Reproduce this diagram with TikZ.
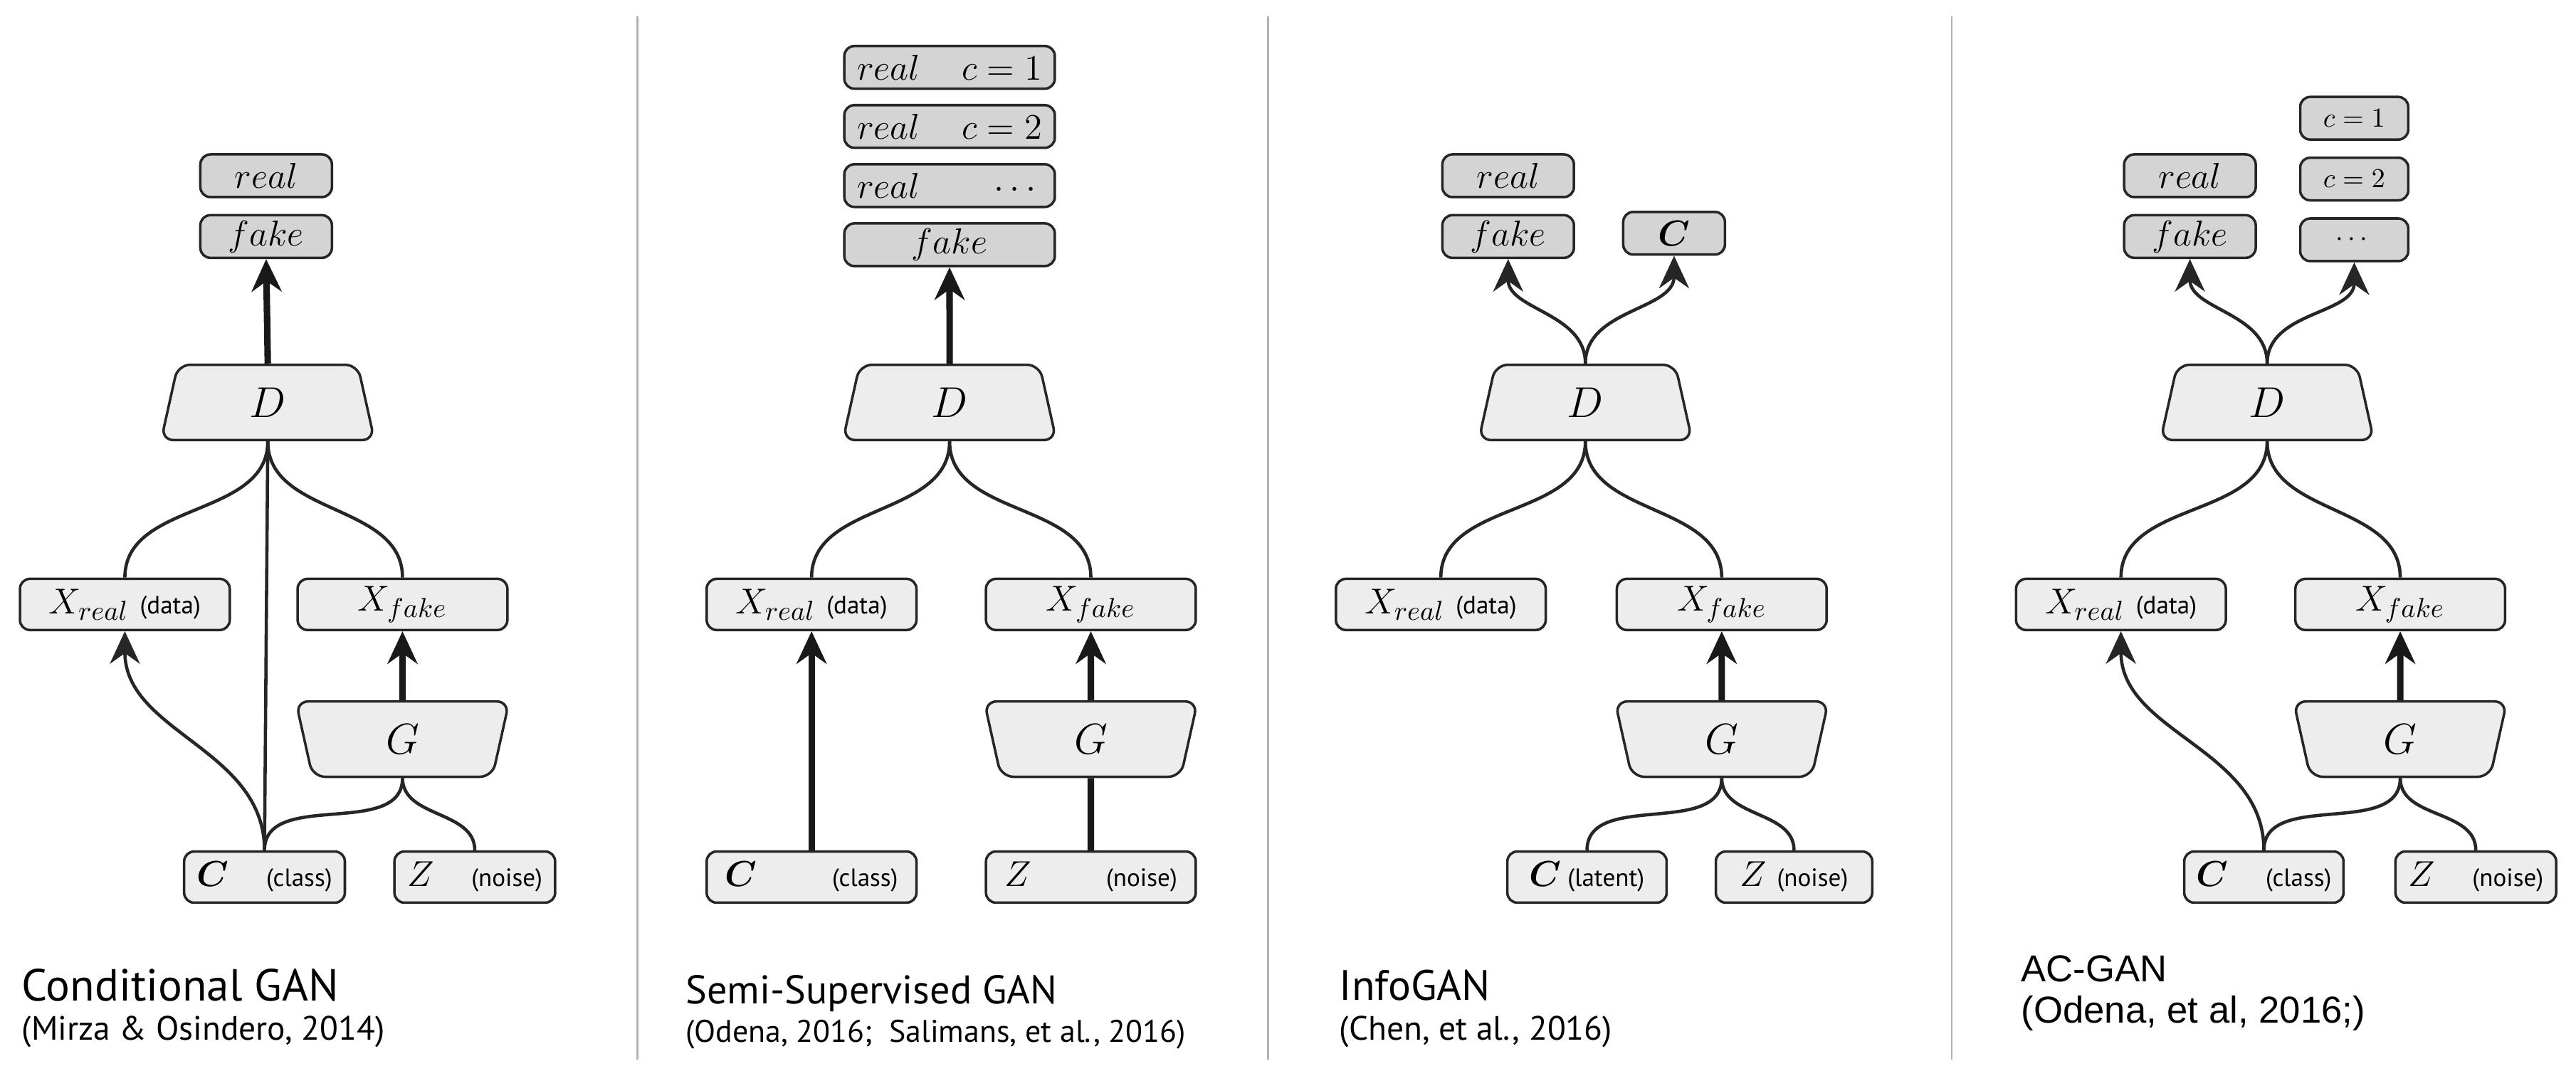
\documentclass[tikz,border=0pt]{standalone}
\usepackage{amsmath}
\usepackage{fontspec}
\newfontfamily\capfont{PT Sans}
\newfontfamily\arialfont{Liberation Sans}
\usetikzlibrary{arrows.meta,shapes.geometric}

\tikzset{
  outbox/.style={draw=black!85,line width=1pt,rounded corners=4pt,fill=black!17,
    minimum width=1.85cm,minimum height=0.6cm,inner sep=1pt,font=\fontsize{14}{16}\selectfont},
  inbox/.style={draw=black!85,line width=1pt,rounded corners=4pt,fill=black!7,
    minimum width=2.95cm,minimum height=0.72cm,inner sep=1pt,font=\fontsize{15}{17}\selectfont},
  disc/.style={trapezium,trapezium stretches body,trapezium angle=70,draw=black!85,line width=1pt,
    rounded corners=5pt,fill=black!7,minimum width=3.0cm,minimum height=1.06cm,font=\fontsize{17}{19}\selectfont},
  gen/.style={disc,shape border rotate=180},
  thin/.style={draw=black!85,line width=1.3pt},
  thick/.style={draw=black!90,line width=2.6pt},
  sep/.style={draw=black!30,line width=0.8pt},
}
\newcommand{\nt}[1]{{\capfont\fontsize{10}{12}\selectfont #1}}

\begin{document}
\begin{tikzpicture}[x=0.0231cm,y=-0.0231cm,>={Stealth[length=13pt,width=12pt]}]
\useasboundingbox (0,0) rectangle (1568,652);

\draw[sep] (388,10) -- (388,645);
\draw[sep] (772,10) -- (772,645);
\draw[sep] (1188,10) -- (1188,645);

% Conditional GAN
\node[outbox] (ar) at (162,107) {$real$};
\node[outbox] (af) at (162,144) {$fake$};
\node[disc] (ad) at (163,245) {$D$};
\node[inbox] (axr) at (76,368) {$X_{real}$ \nt{(data)}};
\node[inbox] (axf) at (245,368) {$X_{fake}$};
\node[gen] (ag) at (245,450) {$G$};
\node[inbox,minimum width=2.26cm] (ac) at (161,534) {$\boldsymbol{C}$\quad\nt{(class)}};
\node[inbox,minimum width=2.26cm] (az) at (289,534) {$Z$\quad\nt{(noise)}};

\draw[thick,->] (ad.north) -- (af.south);
\draw[thin] (ad.south) to[out=-90,in=90] (axr.north);
\draw[thin] (ad.south) to[out=-90,in=90] (axf.north);
\draw[thin] (ac.north) -- (ad.south);
\draw[thin,->] (ac.north) to[out=90,in=-90] (axr.south);
\draw[thin] (ac.north) to[out=90,in=-90] (ag.south);
\draw[thin] (az.north) to[out=90,in=-90] (ag.south);
\draw[thick,->] (ag.north) -- (axf.south);

\node[anchor=west,font=\capfont\fontsize{18}{21}\selectfont] (at) at (8,600) {Conditional GAN};
\node[anchor=west,font=\capfont\fontsize{13.5}{16}\selectfont] (as) at (8,628) {(Mirza \& Osindero, 2014)};

% Semi-Supervised GAN
\node[outbox,minimum width=2.96cm,text width=2.6cm] (b1) at (578,41) {$real$\hfill$c=1$\hspace*{6pt}};
\node[outbox,minimum width=2.96cm,text width=2.6cm] (b2) at (578,77) {$real$\hfill$c=2$\hspace*{6pt}};
\node[outbox,minimum width=2.96cm,text width=2.6cm] (b3) at (578,113) {$real$\hfill$\cdots$\hspace*{12pt}};
\node[outbox,minimum width=2.96cm] (bf) at (578,149) {$fake$};
\node[disc] (bd) at (578,245) {$D$};
\node[inbox] (bxr) at (494,368) {$X_{real}$ \nt{(data)}};
\node[inbox] (bxf) at (664,368) {$X_{fake}$};
\node[gen] (bg) at (664,450) {$G$};
\node[inbox] (bc) at (494,534) {$\boldsymbol{C}$\qquad\nt{(class)}};
\node[inbox] (bz) at (664,534) {$Z$\qquad\nt{(noise)}};

\draw[thick,->] (bd.north) -- (bf.south);
\draw[thin] (bd.south) to[out=-90,in=90] (bxr.north);
\draw[thin] (bd.south) to[out=-90,in=90] (bxf.north);
\draw[thick,->] (bc.north) -- (bxr.south);
\draw[thick] (bz.north) -- (bg.south);
\draw[thick,->] (bg.north) -- (bxf.south);

\node[anchor=west,font=\capfont\fontsize{16}{19}\selectfont] (bt) at (412,605) {Semi-Supervised GAN};
\node[anchor=west,font=\capfont\fontsize{12.5}{15}\selectfont] (bs) at (412,630) {(Odena, 2016;\ \ Salimans, et al., 2016)};

% InfoGAN
\node[outbox] (cr) at (918,107) {$real$};
\node[outbox] (cf) at (918,144) {$fake$};
\node[outbox,minimum width=1.43cm] (cc) at (1019,142) {$\boldsymbol{C}$};
\node[disc] (cd) at (965,245) {$D$};
\node[inbox] (cxr) at (877,368) {$X_{real}$ \nt{(data)}};
\node[inbox] (cxf) at (1048,368) {$X_{fake}$};
\node[gen] (cg) at (1048,450) {$G$};
\node[inbox,minimum width=2.24cm] (cl) at (966,534) {$\boldsymbol{C}$\,\nt{(latent)}};
\node[inbox,minimum width=2.2cm] (cz) at (1092,534) {$Z$\;\nt{(noise)}};

\draw[thin,->] (cd.north) to[out=90,in=-90] (cf.south);
\draw[thin,->] (cd.north) to[out=90,in=-90] (cc.south);
\draw[thin] (cd.south) to[out=-90,in=90] (cxr.north);
\draw[thin] (cd.south) to[out=-90,in=90] (cxf.north);
\draw[thin] (cl.north) to[out=90,in=-90] (cg.south);
\draw[thin] (cz.north) to[out=90,in=-90] (cg.south);
\draw[thick,->] (cg.north) -- (cxf.south);

\node[anchor=west,font=\capfont\fontsize{17}{20}\selectfont] (ct) at (810,600) {InfoGAN};
\node[anchor=west,font=\capfont\fontsize{13.5}{16}\selectfont] (cs) at (810,628) {(Chen, et al., 2016)};

% AC-GAN
\node[outbox] (dr) at (1333,107) {$real$};
\node[outbox] (df) at (1333,144) {$fake$};
\node[outbox,minimum width=1.52cm,font=\fontsize{11}{13}\selectfont] (d1) at (1433,72) {$c=1$};
\node[outbox,minimum width=1.52cm,font=\fontsize{11}{13}\selectfont] (d2) at (1433,109) {$c=2$};
\node[outbox,minimum width=1.52cm,font=\fontsize{11}{13}\selectfont] (d3) at (1433,146) {$\cdots$};
\node[disc] (dd) at (1380,245) {$D$};
\node[inbox] (dxr) at (1291,368) {$X_{real}$ \nt{(data)}};
\node[inbox] (dxf) at (1461,368) {$X_{fake}$};
\node[gen] (dg) at (1461,450) {$G$};
\node[inbox,minimum width=2.24cm] (dc) at (1378,534) {$\boldsymbol{C}$\quad\nt{(class)}};
\node[inbox,minimum width=2.26cm] (dz) at (1507,534) {$Z$\quad\nt{(noise)}};

\draw[thin,->] (dd.north) to[out=90,in=-90] (df.south);
\draw[thin,->] (dd.north) to[out=90,in=-90] (d3.south);
\draw[thin] (dd.south) to[out=-90,in=90] (dxr.north);
\draw[thin] (dd.south) to[out=-90,in=90] (dxf.north);
\draw[thin,->] (dc.north) to[out=90,in=-90] (dxr.south);
\draw[thin] (dc.north) to[out=90,in=-90] (dg.south);
\draw[thin] (dz.north) to[out=90,in=-90] (dg.south);
\draw[thick,->] (dg.north) -- (dxf.south);

\node[anchor=west,font=\arialfont\fontsize{15}{18}\selectfont] (dt) at (1225,590) {AC-GAN};
\node[anchor=west,font=\arialfont\fontsize{15}{18}\selectfont] (ds) at (1225,617) {(Odena, et al, 2016;)};

\end{tikzpicture}
\end{document}
